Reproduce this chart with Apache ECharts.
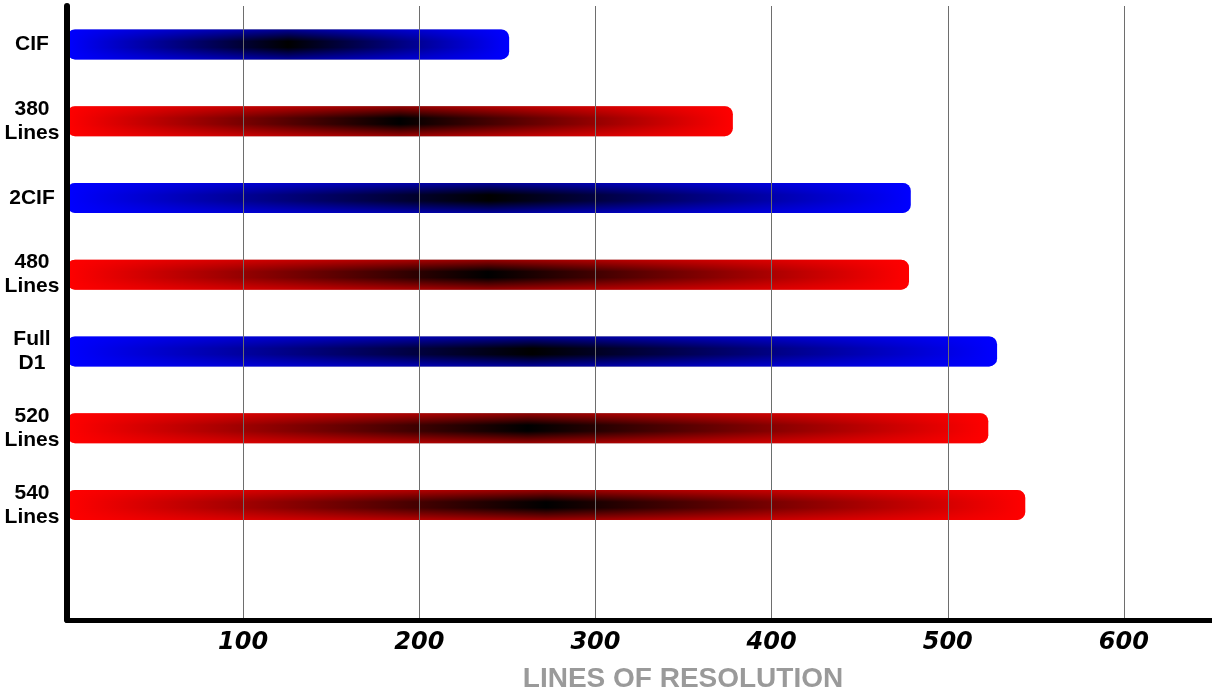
<!DOCTYPE html>
<html>
<head>
<meta charset="utf-8">
<script src="https://cdn.jsdelivr.net/npm/echarts@6/dist/echarts.min.js"></script>
<style>
html,body{margin:0;padding:0;background:#fff;}
#chart{width:1212px;height:690px;}
</style>
</head>
<body>
<div id="chart"></div>
<script>
// ---- data ----
const categories = ['CIF', '380\nLines', '2CIF', '480\nLines', 'Full\nD1', '520\nLines', '540\nLines', ''];
const values = [251, 378, 479, 478, 528, 523, 544];
const axisTitle = 'LINES OF RESOLUTION';
const xMax = 650;
const xInterval = 100;

// ---- styling helpers ----
const BLUE = '#0000ff';
const RED = '#ff0000';
function baseColor(label) {
  return label.indexOf('Lines') >= 0 ? RED : BLUE;
}
function rgba(hex, a) {
  const r = parseInt(hex.slice(1, 3), 16), g = parseInt(hex.slice(3, 5), 16), b = parseInt(hex.slice(5, 7), 16);
  return 'rgba(' + r + ',' + g + ',' + b + ',' + a + ')';
}
const baseData = values.map((v, i) => {
  const c = baseColor(categories[i]);
  return {
    value: v,
    itemStyle: {
      color: new echarts.graphic.LinearGradient(0, 0, 1, 0, [
        { offset: 0, color: c },
        { offset: 0.5, color: '#000000' },
        { offset: 1, color: c }
      ])
    }
  };
});
const sheenData = values.map((v, i) => {
  const c = baseColor(categories[i]);
  return {
    value: v,
    itemStyle: {
      color: new echarts.graphic.LinearGradient(0, 0, 0, 1, [
        { offset: 0, color: rgba(c, 0.6) },
        { offset: 0.4, color: rgba(c, 0) },
        { offset: 0.6, color: rgba(c, 0) },
        { offset: 1, color: rgba(c, 0.6) }
      ])
    }
  };
});

const chart = echarts.init(document.getElementById('chart'), null, { renderer: 'canvas' });
chart.setOption({
  animation: false,
  backgroundColor: '#ffffff',
  grid: { left: 67, right: 0, top: 6, bottom: 70, containLabel: false, outerBoundsMode: 'none' },
  xAxis: {
    type: 'value',
    min: 0,
    max: xMax,
    interval: xInterval,
    z: 5,
    axisLine: { show: true, lineStyle: { color: '#000', width: 5 } },
    axisTick: { show: false },
    splitLine: { show: true, showMinLine: false, showMaxLine: false, lineStyle: { color: '#6e6e6e', width: 1 } },
    axisLabel: {
      show: true,
      showMinLabel: false,
      showMaxLabel: false,
      margin: 11,
      color: '#000',
      fontSize: 24,
      fontStyle: 'italic',
      fontWeight: 'bold',
      fontFamily: 'DejaVu Sans'
    },
    name: axisTitle,
    nameLocation: 'middle',
    nameGap: 45,
    nameTextStyle: {
      color: '#9a9a9a',
      fontSize: 28,
      fontWeight: 'bold',
      fontFamily: 'Liberation Sans',
      padding: [0, 0, 0, 87]
    }
  },
  yAxis: {
    type: 'category',
    data: categories,
    inverse: true,
    z: 5,
    axisLine: { show: true, lineStyle: { color: '#000', width: 6, cap: 'round' } },
    axisTick: { show: false },
    splitLine: { show: false },
    axisLabel: {
      margin: 35,
      color: '#000',
      fontSize: 21,
      lineHeight: 24,
      fontWeight: 'bold',
      fontFamily: 'Liberation Sans',
      align: 'center'
    }
  },
  series: [
    {
      type: 'bar',
      data: baseData,
      barWidth: 30,
      z: 2,
      itemStyle: { borderRadius: 8 },
      silent: true
    },
    {
      type: 'bar',
      data: sheenData,
      barWidth: 30,
      barGap: '-100%',
      z: 3,
      itemStyle: { borderRadius: 8 },
      silent: true
    }
  ]
});
</script>
</body>
</html>
